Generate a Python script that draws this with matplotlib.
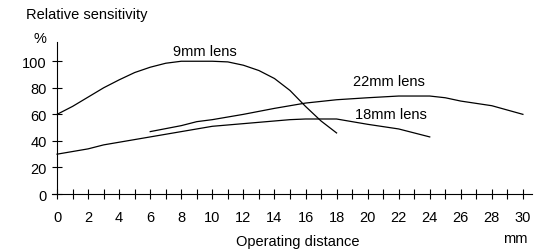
import matplotlib
matplotlib.use("Agg")
import matplotlib.pyplot as plt
import numpy as np

plt.rcParams['font.family'] = ['Liberation Sans', 'DejaVu Sans']

x_9mm = [0, 1, 2, 3, 4, 5, 6, 7, 8, 9, 10, 11, 12, 13, 14, 15, 16, 17, 18]
y_9mm = [60, 66, 73, 80, 86, 91.5, 95.5, 98.5, 100, 100, 100, 99.5, 97, 93, 87, 78, 66, 55, 46]

x_22mm = [6, 8, 9, 10, 12, 14, 16, 18, 20, 22, 24, 25, 26, 28, 30]
y_22mm = [47, 51.5, 54.5, 56, 60, 64.5, 68.5, 71, 72.5, 73.8, 73.8, 72.5, 70, 66.5, 60]

x_18mm = [0, 2, 3, 4, 6, 8, 10, 12, 14, 15, 16, 18, 19, 20, 22, 24]
y_18mm = [30, 34, 37, 39, 43, 47, 51, 53, 55, 56, 56.5, 56.5, 54.5, 52.5, 49, 43]

x_ticks = list(range(0, 31, 2))
y_ticks = [0, 20, 40, 60, 80, 100]

fs = 10.5

fig = plt.figure(figsize=(5.48, 2.51), dpi=100)
ax = fig.add_axes([0.0942, 0.2231, 0.877, 0.6056])

for xs, ys in [(x_9mm, y_9mm), (x_22mm, y_22mm), (x_18mm, y_18mm)]:
    ax.plot(xs, ys, color='black', lw=0.9)

ax.set_xlim(-0.35, 30.6)
ax.set_ylim(0, 114.5)
ax.spines['right'].set_visible(False)
ax.spines['top'].set_visible(False)
ax.spines['left'].set_position(('data', 0))
for s in ['left', 'bottom']:
    ax.spines[s].set_linewidth(0.8)

ax.set_xticks(x_ticks)
ax.set_xticks(list(range(0, 31)), minor=True)
ax.set_yticks(y_ticks)
ax.tick_params(axis='both', which='both', direction='inout', length=7, width=0.8, labelsize=fs)
ax.tick_params(axis='x', pad=8)
ax.tick_params(axis='y', pad=4)

ax.text(9.5, 107.8, '9mm lens', ha='center', va='center', fontsize=fs)
ax.text(21.4, 85.4, '22mm lens', ha='center', va='center', fontsize=fs)
ax.text(21.5, 60.3, '18mm lens', ha='center', va='center', fontsize=fs)

fig.text(26/548, 1 - 15/251, 'Relative sensitivity', ha='left', va='center', fontsize=fs)
fig.text(40/548, 1 - 39/251, '%', ha='center', va='center', fontsize=fs)
fig.text(297.5/548, 1 - 242/251, 'Operating distance', ha='center', va='center', fontsize=fs)
fig.text(515/548, 1 - 239/251, 'mm', ha='center', va='center', fontsize=fs)

fig.savefig('out.png', dpi=100)
